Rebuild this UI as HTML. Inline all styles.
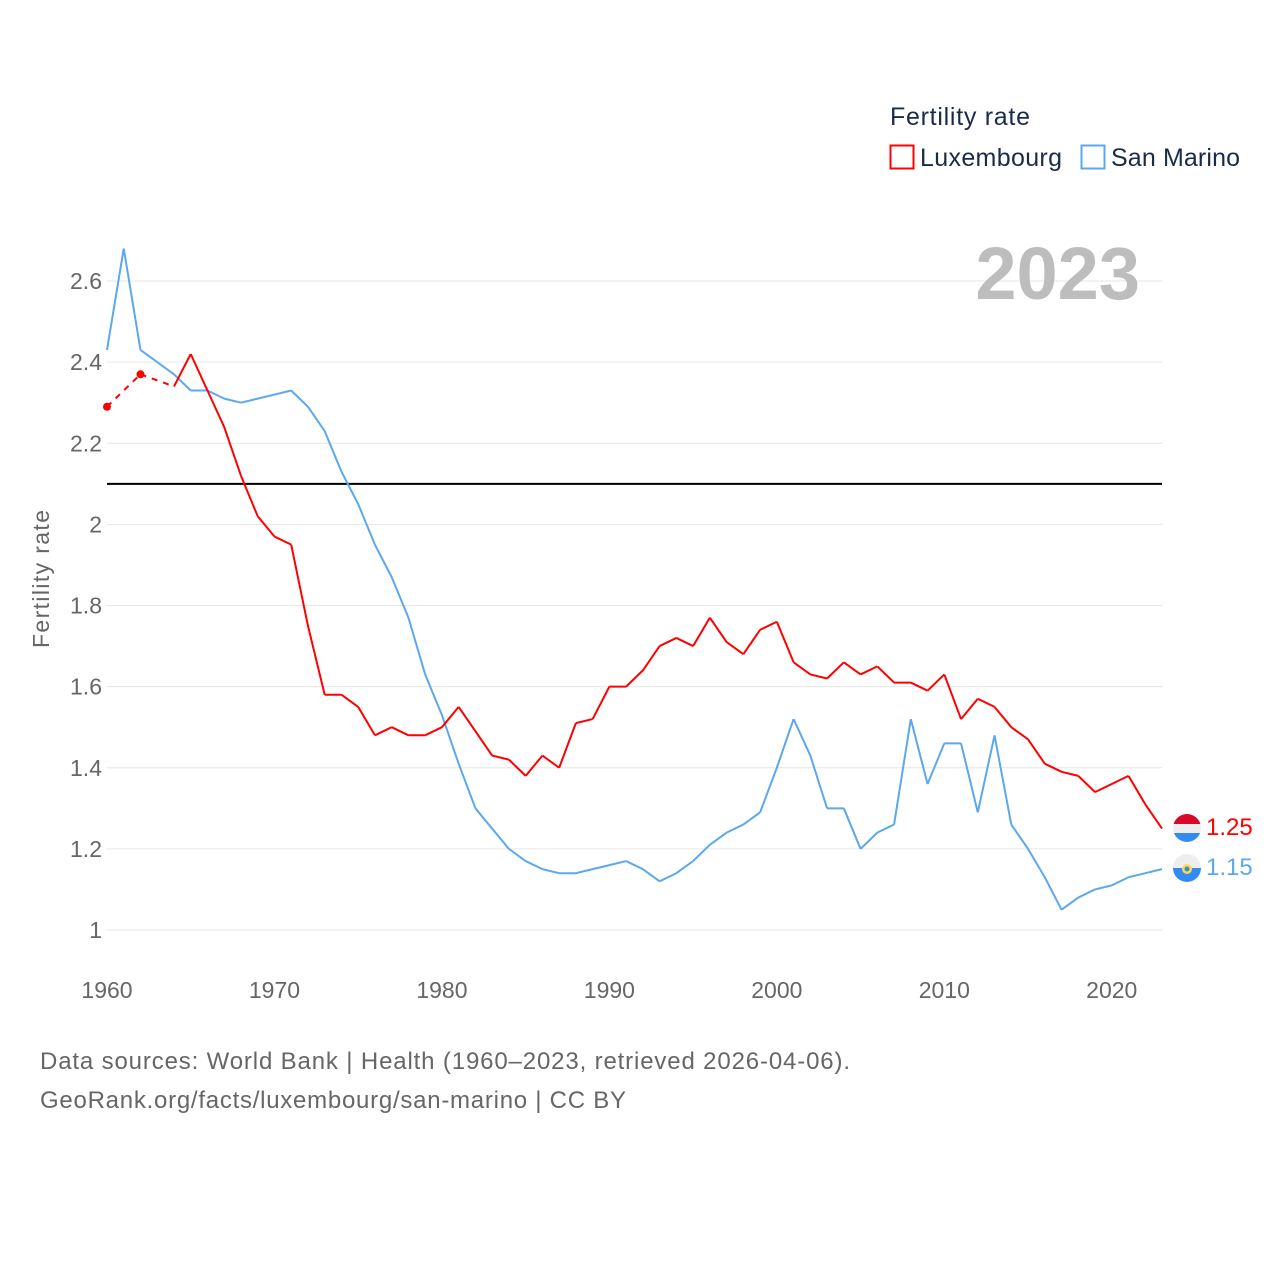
<!DOCTYPE html>
<html><head><meta charset="utf-8"><style>
body{margin:0;background:#fff;font-family:"Liberation Sans",sans-serif;}
svg text{font-family:"Liberation Sans",sans-serif;}
</style></head><body>
<svg id="chart" width="1280" height="1280" xmlns="http://www.w3.org/2000/svg">
<g id="grid"></g>
<g id="yticks"></g>
<g id="xticks"></g>
<text x="49" y="579" transform="rotate(-90 49 579)" text-anchor="middle" font-size="23" fill="#666" textLength="138">Fertility rate</text>
<text x="1140" y="299" text-anchor="end" font-size="74" font-weight="bold" fill="#bdbdbd">2023</text>
<g id="series"></g>
<g>
<text x="890" y="125" font-size="25" fill="#1a2b4a" textLength="140">Fertility rate</text>
<g><rect x="890.5" y="145.5" width="23" height="23" fill="none" stroke="#ff0000" stroke-width="2"/><text x="920" y="166" font-size="25" fill="#1a2b4a" textLength="142">Luxembourg</text></g>
<g><rect x="1081.5" y="145.5" width="23" height="23" fill="none" stroke="#5ba8ee" stroke-width="2"/><text x="1111" y="166" font-size="25" fill="#1a2b4a" textLength="129">San Marino</text></g>
</g>
<g>
<clipPath id="c1"><circle cx="1187" cy="828" r="14"/></clipPath>
<g clip-path="url(#c1)"><rect x="1173" y="814" width="28" height="10" fill="#d7092b"/><rect x="1173" y="824" width="28" height="9" fill="#eee"/><rect x="1173" y="833" width="28" height="10" fill="#338af3"/></g></g>
<g>
<clipPath id="c2"><circle cx="1187" cy="868" r="14"/></clipPath>
<g clip-path="url(#c2)"><rect x="1173" y="854" width="28" height="14" fill="#eee"/><rect x="1173" y="868" width="28" height="14" fill="#338af3"/><circle cx="1187" cy="869" r="5" fill="#ffda44"/><circle cx="1187" cy="869" r="2.5" fill="#338af3"/></g></g>
<text x="1206" y="835" font-size="24" fill="#ff0000">1.25</text>
<text x="1206" y="875" font-size="24" fill="#5ba8ee">1.15</text>
<text x="40" y="1069" font-size="24" fill="#666" textLength="810">Data sources: World Bank | Health (1960–2023, retrieved 2026-04-06).</text>
<text x="40" y="1108" font-size="24" fill="#666" textLength="586">GeoRank.org/facts/luxembourg/san-marino | CC BY</text>
</svg>
<script>
const years=[];for(let y=1960;y<=2023;y++)years.push(y);
const luxembourg=[2.29,null,2.37,null,2.34,2.42,2.33,2.24,2.12,2.02,1.97,1.95,1.75,1.58,1.58,1.55,1.48,1.50,1.48,1.48,1.50,1.55,1.49,1.43,1.42,1.38,1.43,1.40,1.51,1.52,1.60,1.60,1.64,1.70,1.72,1.70,1.77,1.71,1.68,1.74,1.76,1.66,1.63,1.62,1.66,1.63,1.65,1.61,1.61,1.59,1.63,1.52,1.57,1.55,1.50,1.47,1.41,1.39,1.38,1.34,1.36,1.38,1.31,1.25];
const sanMarino=[2.43,2.68,2.43,2.40,2.37,2.33,2.33,2.31,2.30,2.31,2.32,2.33,2.29,2.23,2.13,2.05,1.95,1.87,1.77,1.63,1.53,1.41,1.30,1.25,1.20,1.17,1.15,1.14,1.14,1.15,1.16,1.17,1.15,1.12,1.14,1.17,1.21,1.24,1.26,1.29,1.40,1.52,1.43,1.30,1.30,1.20,1.24,1.26,1.52,1.36,1.46,1.46,1.29,1.48,1.26,1.20,1.13,1.05,1.08,1.10,1.11,1.13,1.14,1.15];
const yTicks=[1,1.2,1.4,1.6,1.8,2,2.2,2.4,2.6];
const xTicks=[1960,1970,1980,1990,2000,2010,2020];
const replacement=2.1;
const NS="http://www.w3.org/2000/svg";
const X=y=>107+(y-1960)*(1162-107)/63;
const Y=v=>930-(v-1)*(930-281)/1.6;
function mk(tag,attrs,parent){const e=document.createElementNS(NS,tag);for(const k in attrs)e.setAttribute(k,attrs[k]);parent.appendChild(e);return e;}
const grid=document.getElementById('grid'),yt=document.getElementById('yticks'),xt=document.getElementById('xticks'),ser=document.getElementById('series');
yTicks.forEach(v=>{const l=mk('line',{x1:107,x2:1162,y1:Y(v),y2:Y(v),stroke:'#e6e6e6','stroke-width':1},grid);


const t=mk('text',{x:102,y:Y(v)+8,'text-anchor':'end','font-size':23,fill:'#666'},yt);t.textContent=String(v);

});
xTicks.forEach(v=>{const t=mk('text',{x:X(v),y:998,'text-anchor':'middle','font-size':23,fill:'#666'},xt);t.textContent=v;

});
const rl=mk('line',{x1:107,x2:1162,y1:Y(replacement),y2:Y(replacement),stroke:'#000','stroke-width':2},ser);


function draw(vals,color,name){
  const g=mk('g',{},ser);
  
  
  let solid='',dash='',prev=-1;
  vals.forEach((v,i)=>{if(v==null)return;
    if(prev>=0){const seg=`M${X(years[prev])},${Y(vals[prev])}L${X(years[i])},${Y(v)}`;if(i-prev===1)solid+=seg;else dash+=seg;}
    prev=i;});
  if(dash)mk('path',{d:dash,fill:'none',stroke:color,'stroke-width':2,'stroke-dasharray':'6,6'},g);
  mk('path',{d:solid,fill:'none',stroke:color,'stroke-width':2,'stroke-linejoin':'round'},g);
  vals.forEach((v,i)=>{if(v==null)return;const a=vals[i-1],b=vals[i+1];
    if((a==null||i===0)&&(b==null)){const c=mk('circle',{cx:X(years[i]),cy:Y(v),r:4,fill:color},g);
      
      }});
}
draw(sanMarino,'#5ba8ee','san-marino');
draw(luxembourg,'#ff0000','luxembourg');
</script>
</body></html>
